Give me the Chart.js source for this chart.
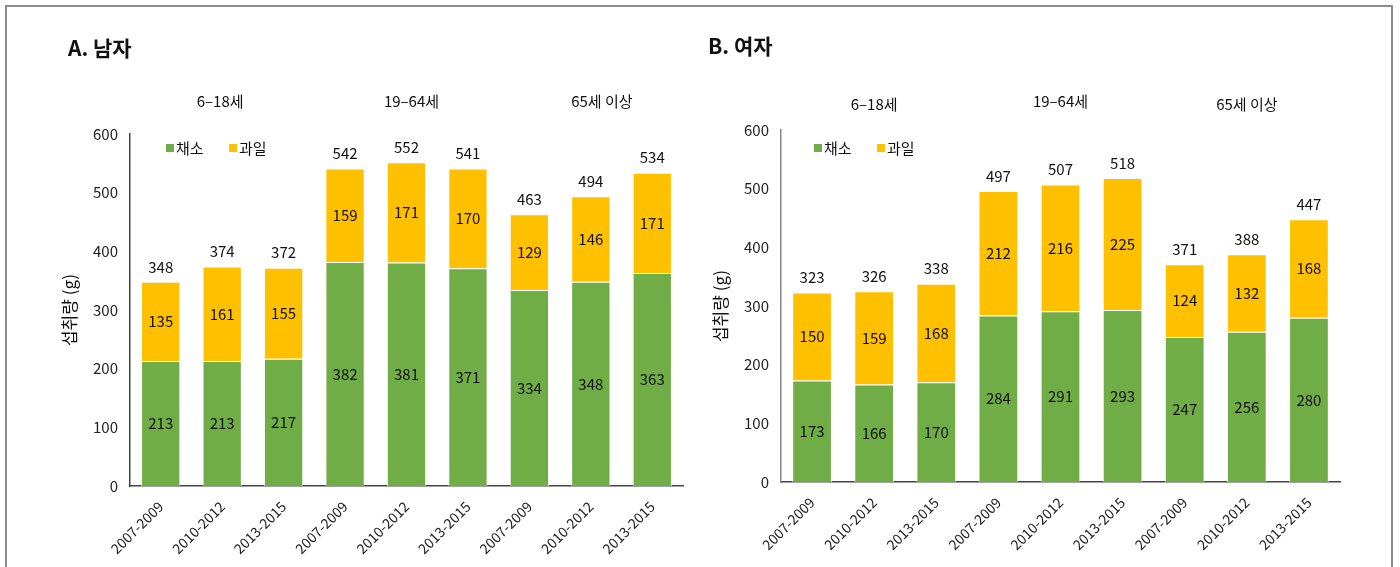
<!DOCTYPE html>
<html>
<head>
<meta charset="utf-8">
<script src="https://cdn.jsdelivr.net/npm/chart.js@4.4.0/dist/chart.umd.min.js"></script>
<style>
body { margin: 0; width: 1400px; height: 567px; background: #fff; overflow: hidden; position: relative; font-family: "Noto Sans CJK KR", sans-serif; }
#frame { position: absolute; left: 5px; top: 5px; width: 1388px; height: 700px; box-sizing: border-box; border: 2px solid #8c8c8c; }
.box { position: absolute; top: 0; width: 700px; height: 567px; }
.ttl { position: absolute; font-size: 21px; line-height: 21px; font-weight: bold; color: #111; }
</style>
</head>
<body>
<div id="frame"></div>
<div class="box" style="left:0"><canvas id="male" width="700" height="567"></canvas></div>
<div class="box" style="left:700px"><canvas id="female" width="700" height="567"></canvas></div>
<div class="ttl" style="left:68px;top:37px">A. 남자</div>
<div class="ttl" style="left:708px;top:35px">B. 여자</div>
<script>
// data
const labels = ['2007-2009', '2010-2012', '2013-2015', '2007-2009', '2010-2012', '2013-2015', '2007-2009', '2010-2012', '2013-2015'];
const groups = ['6–18세', '19–64세', '65세 이상'];
const seriesNames = ['채소', '과일'];
const colors = ['#70AD47', '#FFC000'];

const maleVeg = [213, 213, 217, 382, 381, 371, 334, 348, 363];
const maleFruit = [135, 161, 155, 159, 171, 170, 129, 146, 171];
const maleTotal = [348, 374, 372, 542, 552, 541, 463, 494, 534];

const femaleVeg = [173, 166, 170, 284, 291, 293, 247, 256, 280];
const femaleFruit = [150, 159, 168, 212, 216, 225, 124, 132, 168];
const femaleTotal = [323, 326, 338, 497, 507, 518, 371, 388, 447];

const yMax = 600;
const yStep = 100;

Chart.defaults.font.family = '"Noto Sans CJK KR", sans-serif';
Chart.defaults.color = '#222';

// value labels, totals, age groups and legend
const labelPlugin = {
    id: 'labels',
    afterDatasetsDraw(chart, args, opts) {
        const ctx = chart.ctx;
        ctx.save();
        ctx.font = '15px "Noto Sans CJK KR"';
        ctx.fillStyle = '#111';
        ctx.textAlign = 'center';
        ctx.textBaseline = 'middle';
        chart.data.datasets.forEach((ds, i) => {
            chart.getDatasetMeta(i).data.forEach((bar, j) => {
                ctx.fillText(ds.data[j], bar.x, (bar.y + bar.base) / 2);
            });
        });
        const top = chart.getDatasetMeta(chart.data.datasets.length - 1).data;
        opts.totals.forEach((t, j) => ctx.fillText(t, top[j].x, top[j].y - 15));

        const xs = chart.scales.x;
        groups.forEach((g, k) => ctx.fillText(g, xs.getPixelForValue(k * 3 + 1) + opts.groupShift[k], opts.groupY[k]));

        // legend
        ctx.textAlign = 'left';
        const lx = chart.chartArea.left + opts.legendX;
        chart.data.datasets.forEach((ds, i) => {
            const x = lx + i * 63;
            ctx.fillStyle = ds.backgroundColor;
            ctx.fillRect(x, opts.legendY - 4, 8, 8);
            ctx.fillStyle = '#111';
            ctx.fillText(ds.label, x + 10, opts.legendY);
        });
        ctx.restore();
    }
};

function makeChart(id, veg, fruit, totals, pad, xHeight, axisColor, extra) {
    const ctx = document.getElementById(id).getContext('2d');
    return new Chart(ctx, {
        type: 'bar',
        data: {
            labels: labels,
            datasets: [{
                label: seriesNames[0],
                data: veg,
                backgroundColor: colors[0],
                borderColor: 'rgba(255,255,255,0.7)',
                borderWidth: 1,
                barPercentage: 0.64,
                categoryPercentage: 1
            },
            {
                label: seriesNames[1],
                data: fruit,
                backgroundColor: colors[1],
                borderColor: 'rgba(255,255,255,0.7)',
                borderWidth: 1,
                barPercentage: 0.64,
                categoryPercentage: 1
            }]
        },
        options: {
            responsive: false,
            animation: false,
            layout: { padding: pad },
            plugins: {
                legend: { display: false },
                tooltip: { enabled: false },
                labels: Object.assign({ totals: totals }, extra)
            },
            scales: {
                x: {
                    stacked: true,
                    grid: { display: false, drawTicks: false },
                    border: { display: true, color: '#444', width: 1.5 },
                    ticks: { minRotation: 45, maxRotation: 45, padding: 12, font: { size: 14 }, color: '#222' },
                    afterFit: s => { s.height = xHeight; }
                },
                y: {
                    stacked: true,
                    min: 0,
                    max: yMax,
                    grid: { display: false, drawTicks: false },
                    border: { display: true, color: axisColor, width: 1.5 },
                    ticks: { stepSize: yStep, padding: 12, font: { size: 15 }, color: '#222' },
                    title: { display: true, text: '섭취량 (g)', font: { size: 17 }, color: '#111' },
                    afterFit: s => { s.width = 75; }
                }
            }
        },
        plugins: [labelPlugin]
    });
}

makeChart('male', maleVeg, maleFruit, maleTotal,
    { left: 55, right: 17, top: 134, bottom: 0 }, 81, '#444',
    { groupY: [101, 101, 101], groupShift: [-2, 5, 11], legendX: 36, legendY: 148 });

makeChart('female', femaleVeg, femaleFruit, femaleTotal,
    { left: 6, right: 60, top: 130, bottom: 0 }, 85, '#888',
    { groupY: [104, 101, 104], groupShift: [0, 0, 0], legendX: 33, legendY: 148 });
</script>
</body>
</html>
